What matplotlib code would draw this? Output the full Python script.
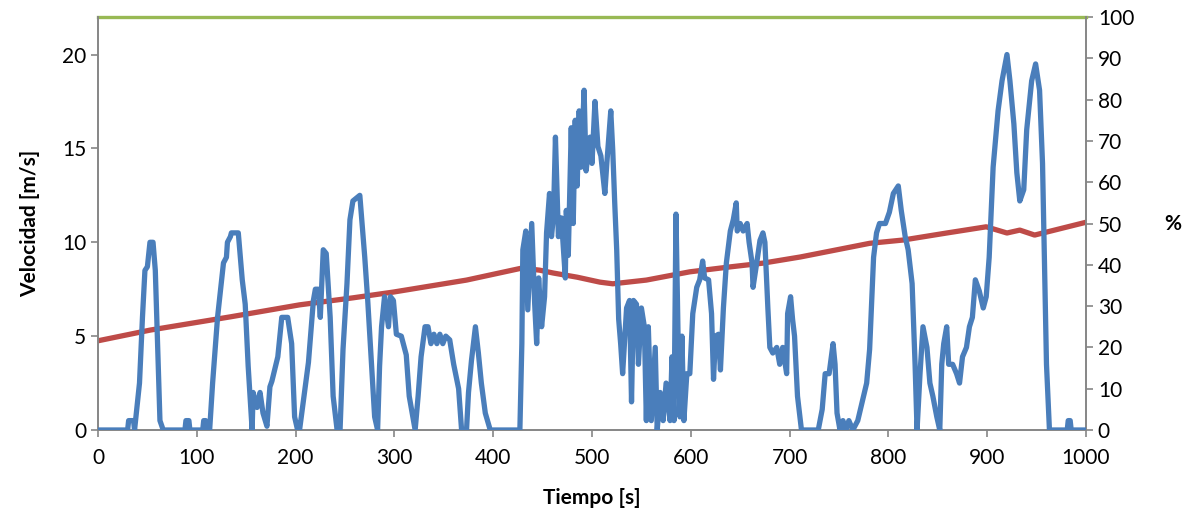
import matplotlib.pyplot as plt

# Velocidad (serie azul)
t_vel = [0, 30, 31, 36, 37, 42, 45, 47.5, 50, 52.6, 55.7, 58, 62.7, 66,
         88, 89, 92, 93, 106, 107, 109, 110, 113, 116, 121, 127, 130, 131, 134, 135, 142, 146, 149, 152, 156,
         157, 161, 164, 167, 171, 174, 176, 182, 186, 192, 196, 199, 202,
         204, 209, 213, 218, 220, 223, 225, 228, 231, 235, 238, 242, 245, 248, 252, 255, 258, 265, 270, 273, 277, 280, 283,
         285, 287, 290, 294, 296, 299, 302, 307, 312, 315, 321, 324, 327, 331, 334, 337, 340, 343, 346, 349, 352, 356,
         360, 365, 368, 373, 375, 378, 382, 385, 388, 392, 397, 425,
         427, 429, 430, 433, 435, 439, 442, 444, 446, 449, 452, 454, 457, 459, 461, 463, 466, 469, 473, 474, 476,
         479, 481, 483, 485, 487, 489, 492, 494, 498, 500, 503, 506, 509, 513, 515, 519, 521, 523, 525, 527, 529,
         531, 535, 538, 540, 542, 545, 547, 550, 553, 555, 557, 560, 564, 566, 569, 572, 575, 579, 581, 583,
         585, 587, 589, 591, 593, 596, 599, 602, 606, 609, 612, 614, 618, 621, 623, 625, 628, 630, 633, 636,
         640, 643, 646, 647, 650, 653, 657, 659, 662, 663, 667, 670, 673, 675, 678, 680, 683, 687, 690, 693,
         697, 698, 701, 703, 705, 708, 712,
         729, 733, 736, 740, 744, 746, 748, 751, 754, 757, 760, 764, 769, 773, 778, 781, 785, 788, 791, 797, 801,
         805, 810, 813, 817, 820, 824, 827, 829, 832, 835, 839, 842, 845, 849, 852, 854, 856, 859, 861, 865, 869,
         872, 875, 879, 882, 885, 888, 892, 896, 899, 902, 906, 911, 915, 920, 923, 927, 930, 933, 937, 940, 945,
         949, 953, 956, 958, 960, 963, 981, 982, 984, 985, 1000]
v_vel = [0, 0, 0.5, 0.5, 0, 2.5, 6, 8.5, 8.7, 10, 10, 8.5, 0.5, 0,
         0, 0.5, 0.5, 0, 0, 0.5, 0.5, 0, 0, 2.5, 6, 8.9, 9.2, 10, 10.3, 10.5, 10.5, 8, 6.7, 3.4, 0,
         2, 1.2, 2, 0.9, 0.2, 2.3, 2.6, 3.9, 6, 6, 4.6, 0.7, 0,
         0, 2, 3.6, 6.9, 7.5, 7.5, 6, 9.6, 9.4, 6, 1.8, 0, 0, 4.3, 7.8, 11.2, 12.2, 12.5, 9.2, 6.9, 3.4, 0.7, 0,
         3.4, 5.5, 7.1, 5.5, 7.1, 6.9, 5.1, 5, 4, 1.8, 0, 1.8, 3.9, 5.5, 5.5, 4.6, 5.1, 4.6, 5.1, 4.6, 5, 4.8,
         3.5, 2.2, 0, 0, 2, 3.7, 5.5, 4.1, 2.5, 0.9, 0, 0,
         0, 4.6, 9.6, 10.6, 6.4, 11, 6.7, 4.6, 8.1, 5.5, 7.1, 10.5, 12.6, 10.3, 11.4, 15.6, 10.3, 11.3, 8.1, 11.7, 9.3,
         16.1, 11, 16.5, 13, 17, 14, 18.1, 13.8, 15.6, 14.2, 17.5, 15.1, 14.6, 12.6, 14.2, 17, 14.9, 12.1, 9.6, 5.9, 4.6,
         3, 6.5, 6.9, 1.5, 6.9, 6.7, 3.5, 6.5, 5.5, 0.5, 5.5, 0.5, 4.4, 0, 2, 0.5, 2.5, 0.5, 3.9, 0.5,
         11.5, 5.3, 0.7, 5, 0.5, 3, 3, 6.2, 7.6, 8, 9, 8.1, 8, 6.2, 2.7, 5, 5.1, 3.2, 6.5, 8.9,
         10.6, 11.2, 12.1, 10.6, 11, 10.6, 11, 10, 8.9, 7.6, 9, 10.1, 10.5, 10, 6.5, 4.4, 4.1, 4.4, 3.5, 4.4,
         3, 6.2, 7.1, 5.9, 5, 1.8, 0,
         0, 1.1, 3, 3, 4.6, 3.5, 0.9, 0, 0.5, 0, 0.5, 0, 0.5, 1.4, 2.5, 4.3, 9.2, 10.5, 11, 11, 11.6,
         12.6, 13, 11.7, 10.3, 9.6, 7.8, 3.5, 0, 3, 5.5, 4.4, 2.5, 1.8, 0.7, 0, 3.5, 4.6, 5.5, 3.5, 3.5, 3,
         2.5, 3.9, 4.4, 5.5, 6, 8, 7.4, 6.5, 7.1, 9.2, 14, 17, 18.6, 20, 18.6, 16.3, 13.7, 12.2, 12.8, 16, 18.6,
         19.5, 18.1, 14.2, 8.9, 3.5, 0, 0, 0.5, 0.5, 0, 0]

# Porcentaje (serie roja)
t_pct = [0, 53, 134, 204, 258, 299, 373, 429, 447, 461, 485, 508, 521, 555, 599, 640, 673,
         711, 781, 815, 859, 899, 920, 933, 948, 1000]
v_pct = [21.6, 24.2, 27.4, 30.3, 32, 33.4, 36.3, 39.2, 38.7, 38, 37, 35.8, 35.4, 36.3, 38.3, 39.5, 40.4,
         41.9, 45.2, 46, 47.7, 49.2, 47.7, 48.4, 47.2, 50.3]

# Serie verde (100 %)
t_top = [0, 1000]
v_top = [100, 100]

plt.rcParams['font.family'] = ['Lato', 'DejaVu Sans']
gris = '#868686'

fig = plt.figure(figsize=(11.93, 5.25), dpi=100)
ax = fig.add_axes([98 / 1193, 95 / 525, 988 / 1193, 413 / 525])
ax2 = ax.twinx()

ax.plot(t_vel, v_vel, color='#4A7EBB', lw=3.8, solid_joinstyle='round', zorder=3)
ax2.plot(t_pct, v_pct, color='#BE4B48', lw=3.8, zorder=2)
ax2.plot(t_top, v_top, color='#98B954', lw=2.4, clip_on=False, zorder=2)

ax.set_zorder(ax2.get_zorder() + 1)
ax.patch.set_visible(False)

ax.set_xlim(0, 1000)
ax.set_ylim(0, 22)
ax2.set_ylim(0, 100)
ax.set_xticks(range(0, 1001, 100))
ax.set_yticks(range(0, 21, 5))
ax2.set_yticks(range(0, 101, 10))

for a in (ax, ax2):
    a.spines['top'].set_visible(False)
    for s in ('left', 'right', 'bottom'):
        a.spines[s].set_color(gris)
        a.spines[s].set_linewidth(1.2)
    a.tick_params(colors=gris, labelcolor='black', labelsize=15, length=5, width=1.2, direction='out')
ax.tick_params(axis='x', pad=8)

ax.set_xlabel('Tiempo [s]', fontsize=15, fontweight='bold', labelpad=14)
ax.set_ylabel('Velocidad [m/s]', fontsize=15, fontweight='bold', labelpad=16)
ax2.set_ylabel('%', fontsize=15, fontweight='bold', rotation=0, labelpad=28, va='center')

fig.savefig('out.png', dpi=100)
